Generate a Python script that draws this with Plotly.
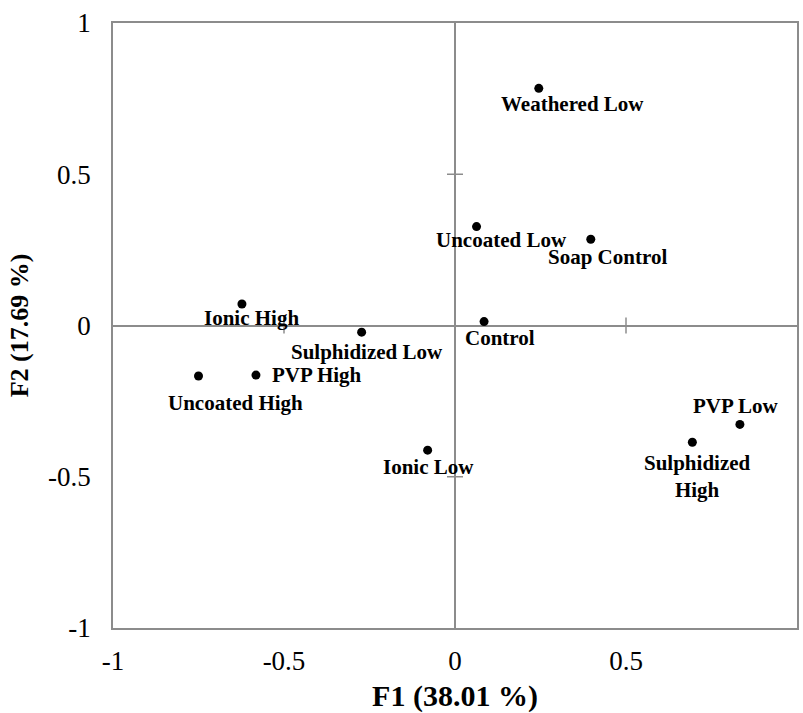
import plotly.graph_objects as go

# PCA factor scores for each treatment (F1, F2)
names = ["Weathered Low", "Uncoated Low", "Soap Control", "Control",
         "Ionic High", "Sulphidized Low", "PVP High", "Uncoated High",
         "Ionic Low", "PVP Low", "Sulphidized<br>High"]
f1 = [0.245, 0.063, 0.397, 0.085, -0.623, -0.273, -0.582, -0.750, -0.080, 0.833, 0.694]
f2 = [0.784, 0.327, 0.285, 0.013, 0.071, -0.022, -0.164, -0.167, -0.412, -0.327, -0.386]

# label offsets from each point, in pixels (x right, y up)
label_dx = [34, 25, 17, 16, 10, 5, 61, 37, 1, -4, 5]
label_dy = [-16, -13, -18, -16, -14, -20, 0, -27, -17, 18, -34]

tick_vals = [-1, -0.5, 0, 0.5, 1]
tick_text = ["-1", "-0.5", "0", "0.5", "1"]

FONT = "Liberation Serif, Times New Roman, serif"
LINE = "#8c8c8c"

fig = go.Figure()
fig.add_trace(go.Scatter(
    x=f1, y=f2, mode="markers",
    marker=dict(color="black", size=9, line=dict(width=0)),
    hoverinfo="skip", showlegend=False,
))

for n, x, y, dx, dy in zip(names, f1, f2, label_dx, label_dy):
    fig.add_annotation(
        x=x, y=y, text=n, showarrow=False, xshift=dx, yshift=dy,
        font=dict(family=FONT, size=21, color="black", weight="bold"),
        align="center", borderpad=0,
    )

# cross tick marks on the zero lines
for v in [-0.5, 0.5]:
    fig.add_shape(type="line", xref="x", yref="y", x0=v, x1=v,
                  ysizemode="pixel", yanchor=0, y0=-8, y1=8,
                  line=dict(color=LINE, width=1.5), layer="below")
    fig.add_shape(type="line", xref="x", yref="y", y0=v, y1=v,
                  xsizemode="pixel", xanchor=0, x0=-8, x1=8,
                  line=dict(color=LINE, width=1.5), layer="below")

axis_common = dict(
    range=[-1, 1], tickvals=tick_vals, ticktext=tick_text, ticks="",
    showgrid=False, zeroline=True, zerolinecolor=LINE, zerolinewidth=1.5,
    showline=True, mirror=True, linecolor=LINE, linewidth=1.5,
    tickfont=dict(family=FONT, size=27, color="black"),
    automargin=False,
)

fig.update_layout(
    width=803, height=713,
    margin=dict(l=113, r=6, t=23, b=85),
    paper_bgcolor="white", plot_bgcolor="white",
    xaxis=dict(**axis_common, ticklabelstandoff=8,
               title=dict(text="F1 (38.01 %)", standoff=16,
                          font=dict(family=FONT, size=30, color="black", weight="bold"))),
    yaxis=dict(**axis_common, ticklabelstandoff=15,
               title=dict(text="F2 (17.69 %)", standoff=12,
                          font=dict(family=FONT, size=26, color="black", weight="bold"))),
)

fig.write_html("out.html")
